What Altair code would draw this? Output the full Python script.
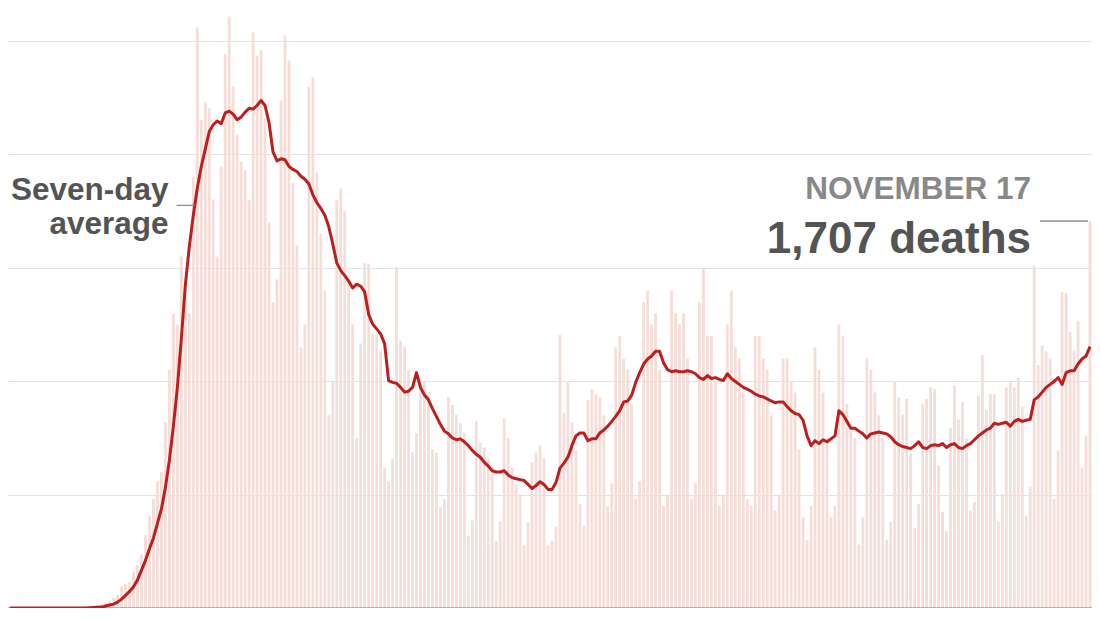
import altair as alt
import pandas as pd

# Daily dates (Feb 20 - Nov 17, 2020)
dates = [d.strftime("%Y-%m-%d") for d in pd.date_range("2020-02-20", "2020-11-17")]

# Daily reported deaths
deaths = [
    0, 0, 0, 0, 0, 0, 0, 0, 0,
    1, 0, 1, 1, 2, 1, 4, 3, 4, 5, 8, 7, 10, 14,
    18, 23, 30, 45, 58, 94, 105, 116, 160, 189, 236, 322, 407,
    480, 560, 600, 820, 1050, 1300, 1250, 1550, 1400, 1300, 1900,
    2560, 2153, 2230, 2204, 1801, 1550, 1947, 2444, 2607, 2300, 2088, 1968, 1930,
    1800, 2538, 2436, 2461, 2161, 1700, 1350, 1450, 2238, 2526, 2414, 1874, 1600,
    1150, 1250, 2298, 2341, 1921, 1650, 1400, 850, 1000, 1800, 1850, 1750, 1450, 1250,
    750, 1166, 1522, 1518, 1209, 1205, 1132, 617, 557, 660, 1505, 1179, 1153, 1050,
    686, 772, 1003, 1003, 950, 700, 686, 446, 480, 930, 896, 853, 815, 772,
    317, 386, 823, 729, 708, 660, 620, 296, 382, 836, 750, 617, 544, 502,
    279, 377, 643, 686, 716, 660, 274, 296, 360, 1205, 862, 995, 819, 695,
    459, 364, 918, 965, 943, 930,
    850, 450, 550, 1150, 1200, 1100, 1050, 900, 480, 560, 1350, 1400, 1250, 1300,
    1050, 450, 500, 1400, 1300, 1250, 1300, 1100, 480, 550, 1350, 1500, 1200, 1200,
    1000, 450, 500, 1250, 1400, 1150, 1100, 950, 480, 450, 1200, 1200, 1100, 1050,
    850, 430, 500, 1100, 1100, 1000, 950, 700, 400, 300, 450, 1150, 1050, 950,
    750, 400, 450, 1250, 1200, 900, 800, 750, 280, 400, 1100, 1050, 950, 850,
    750, 300, 380, 1000,
    930, 853, 922, 682, 352, 459, 900, 922, 973, 965, 630, 425, 339, 793,
    982, 832, 909, 746, 429, 467, 935, 1115, 875, 943, 943, 382, 502, 973,
    995, 973, 1016, 888, 407, 536, 1509, 1072, 1158, 1132, 1100, 480, 695, 1394,
    1389, 1218, 1136, 1265, 617, 759, 1707,
]

# Seven-day average
average = [
    0, 0, 0, 0, 0, 0, 0, 0, 0, 0, 0, 0, 0, 0, 0, 0, 0, 0, 0, 0, 1, 2, 3,
    4, 9, 13, 17, 26, 39, 56, 73, 94, 124, 167, 210, 262,
    309, 373, 437, 532, 652, 802, 973, 1188, 1424, 1595, 1732,
    1852, 1947, 2024, 2101, 2131, 2148, 2136, 2183, 2191, 2178, 2153, 2165, 2187,
    2204, 2200, 2216, 2238, 2216, 2140, 2011, 1972, 1981, 1977, 1947, 1934, 1925,
    1904, 1891, 1870, 1822, 1788, 1762, 1732, 1681, 1604, 1522, 1488, 1466, 1441, 1411,
    1428, 1419, 1394, 1295, 1252, 1231, 1209, 1166, 1003, 995, 991, 973, 952, 956,
    973, 1038, 973, 939, 918, 879, 845, 810, 780, 768, 750, 742, 746, 733,
    716, 695, 678, 665, 643, 626, 605, 600, 600, 605, 587, 575, 570, 566,
    562, 545, 527, 540, 557, 545, 523, 523, 553, 617, 639, 665, 716, 759,
    772, 772, 738, 746, 746, 772,
    785, 802, 823, 845, 870, 909, 913, 939, 995, 1038, 1076, 1098, 1111, 1132,
    1132, 1081, 1051, 1042, 1046, 1042, 1042, 1046, 1042, 1033, 1016, 1008, 1025, 1012,
    1016, 1008, 1003, 1033, 1012, 999, 986, 973, 965, 956, 943, 935, 931, 922,
    913, 905, 909, 909, 888, 870, 858, 853, 828, 759, 716, 738, 725, 742,
    733, 746, 759, 870, 853, 823, 793, 793, 780, 768, 750, 768, 772, 776,
    772, 768, 755, 733,
    720, 712, 708, 703, 716, 733, 708, 703, 716, 720, 716, 725, 708, 720,
    725, 708, 703, 716, 725, 742, 759, 772, 785, 793, 815, 810, 815, 819,
    802, 823, 832, 823, 828, 832, 918, 931, 952, 973, 986, 999, 1016, 986,
    1038, 1046, 1046, 1076, 1098, 1111, 1153,
]

grid_values = [500, 1000, 1500, 2000, 2500]
y_max = 2646

df = pd.DataFrame({"date": dates, "deaths": deaths, "average": average})

W, H = 1084, 600
FONT = "Liberation Sans, Arial, sans-serif"

x_enc = alt.X("date:O", scale=alt.Scale(paddingInner=0.3, paddingOuter=0.15), axis=None)
y_scale = alt.Scale(domain=[0, y_max], nice=False, zero=True)

base = alt.Chart(df)

bars = base.mark_bar(color="#f5ddd8").encode(
    x=x_enc,
    y=alt.Y("deaths:Q", scale=y_scale,
            axis=alt.Axis(values=grid_values, labels=False, ticks=False, domain=False,
                          title=None, grid=True, gridColor="#e3e3e3", gridWidth=1)),
)

line = base.mark_line(color="#bd1e1e", strokeWidth=3, strokeJoin="round").encode(
    x=x_enc,
    y=alt.Y("average:Q", scale=y_scale),
)

baseline = alt.Chart(pd.DataFrame({"v": [0]})).mark_rule(color="#9c9c9c", strokeWidth=1.5).encode(
    y=alt.Y("v:Q", scale=y_scale), x=alt.value(0), x2=alt.value(W)
)


def label(txt, x, y, size, color):
    return alt.Chart(pd.DataFrame({"t": [txt]})).mark_text(
        align="right", baseline="alphabetic", font=FONT, fontWeight="bold",
        fontSize=size, color=color,
    ).encode(x=alt.value(x), y=alt.value(y), text="t:N")


t1 = label("Seven-day", 160.6, 191.5, 31.5, "#545454")
t2 = label("average", 160.6, 225.5, 31.5, "#545454")
t3 = label("NOVEMBER 17", 1023, 191.3, 31.5, "#888888")
t4 = label("1,707 deaths", 1023, 244.8, 44, "#545454")

tick_left = alt.Chart(pd.DataFrame({"v": [1]})).mark_rule(color="#8f8f8f", strokeWidth=1.3).encode(
    x=alt.value(168.5), x2=alt.value(186.5), y=alt.value(197.4)
)
tick_right = alt.Chart(pd.DataFrame({"v": [1707]})).mark_rule(color="#8f8f8f", strokeWidth=1.5).encode(
    y=alt.Y("v:Q", scale=y_scale), x=alt.value(1032), x2=alt.value(1080)
)

chart = alt.layer(
    bars, baseline, line, tick_left, tick_right, t1, t2, t3, t4
).properties(
    width=W, height=H, padding=0,
    autosize=alt.AutoSizeParams(type="none"),
    background="white",
).configure_view(stroke=None)

chart.save("out.html", embed_options={"renderer": "svg", "actions": False})
